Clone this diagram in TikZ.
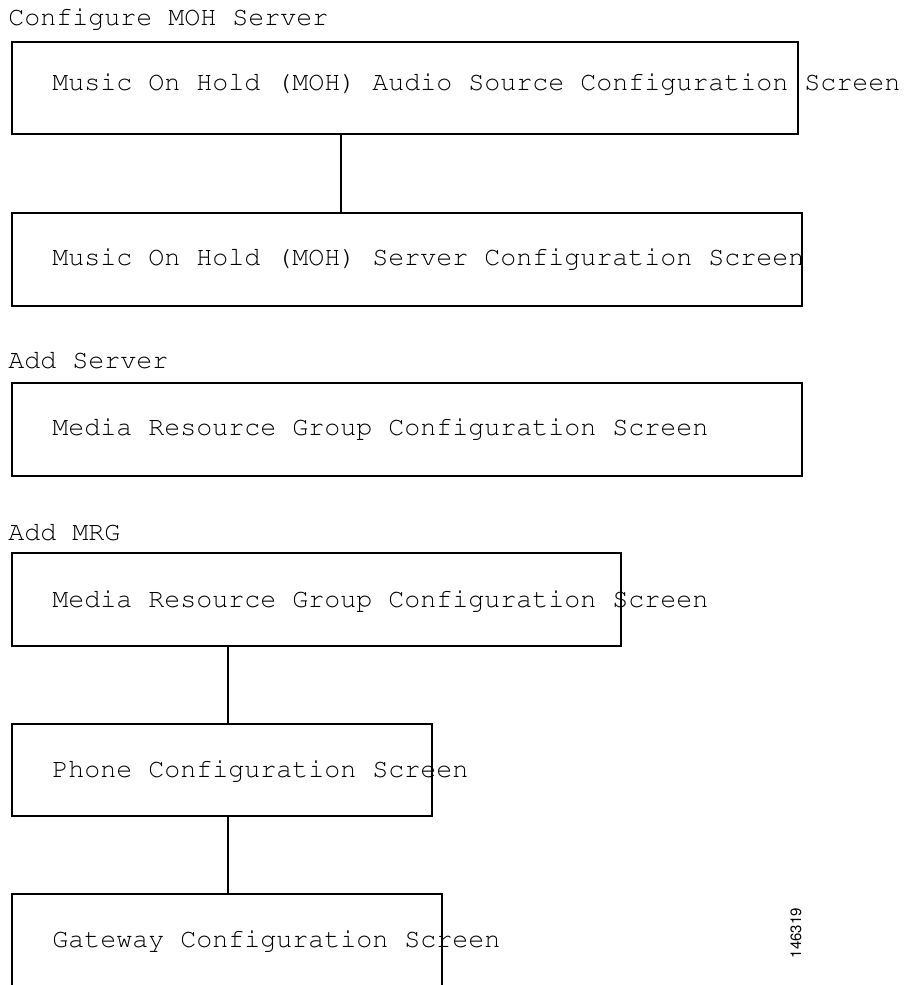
\documentclass[tikz,border=0pt]{standalone}
\usepackage[T1]{fontenc}
\usepackage{courier}
\usetikzlibrary{calc}

\tikzset{
  screenbox/.style={draw=black, line width=1.9pt, rectangle, inner sep=0pt,
    outer sep=0pt, anchor=north west},
  screentext/.style={anchor=base west, inner sep=0pt, font=\ttfamily\fontsize{20pt}{24pt}\selectfont},
  steplabel/.style={anchor=base west, inner sep=0pt, font=\ttfamily\fontsize{20pt}{24pt}\selectfont},
  link/.style={draw=black, line width=1.5pt},
}

\begin{document}
\begin{tikzpicture}[x=0.75pt, y=-0.75pt]
  \useasboundingbox (0,0) rectangle (904,985);

  % section labels
  \node[steplabel] (l1) at (8,26) {Configure MOH Server};
  \node[steplabel] (l2) at (8,368) {Add Server};
  \node[steplabel] (l3) at (8,540) {Add MRG};

  % screen boxes
  \node[screenbox, minimum width=589.5pt, minimum height=69pt]    (b1) at (12,42) {};
  \node[screenbox, minimum width=592.5pt, minimum height=69.75pt] (b2) at (12,213) {};
  \node[screenbox, minimum width=592.5pt, minimum height=69.75pt] (b3) at (12,383) {};
  \node[screenbox, minimum width=456.75pt, minimum height=69.75pt] (b4) at (12,553) {};
  \node[screenbox, minimum width=315pt, minimum height=69pt]      (b5) at (12,724) {};
  \node[screenbox, minimum width=322.5pt, minimum height=71.25pt] (b6) at (12,894) {};

  % screen names (they run past the box edges)
  \node[screentext] (t1) at (52,90)  {Music On Hold (MOH) Audio Source Configuration Screen};
  \node[screentext] (t2) at (52,265) {Music On Hold (MOH) Server Configuration Screen};
  \node[screentext] (t3) at (52,435) {Media Resource Group Configuration Screen};
  \node[screentext] (t4) at (52,607) {Media Resource Group Configuration Screen};
  \node[screentext] (t5) at (52,777) {Phone Configuration Screen};
  \node[screentext] (t6) at (52,947) {Gateway Configuration Screen};

  % connectors
  \draw[link] ($(b1.south west)+(329,0)$) -- ($(b2.north west)+(329,0)$);
  \draw[link] ($(b4.south west)+(216,0)$) -- ($(b5.north west)+(216,0)$);
  \draw[link] ($(b5.south west)+(216,0)$) -- ($(b6.north west)+(216,0)$);

  % figure number
  \node[rotate=90, inner sep=0pt, font=\fontfamily{phv}\fontsize{11.25pt}{13pt}\selectfont] (fig) at (796,933) {146319};
\end{tikzpicture}
\end{document}
